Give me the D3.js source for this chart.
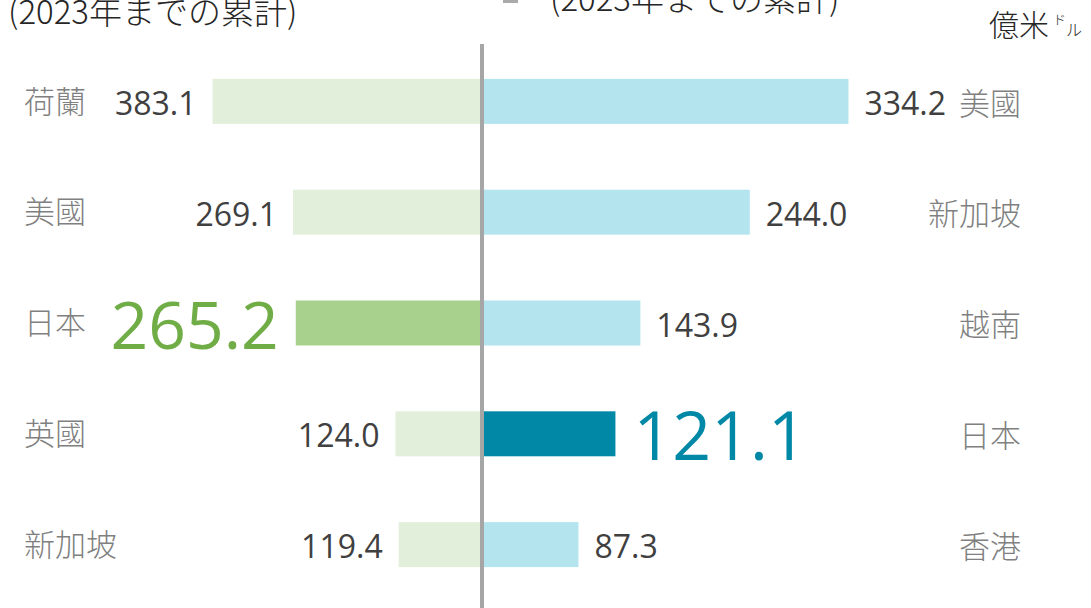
<!DOCTYPE html>
<html>
<head>
<meta charset="utf-8">
<script src="https://cdn.jsdelivr.net/npm/d3@7"></script>
<style>
  body { margin: 0; background: #fff; }
  svg { display: block; }
</style>
</head>
<body>
<div id="container"></div>
<script>
// data
const leftCountries = ["荷蘭", "美國", "日本", "英國", "新加坡"]
const leftValues = [383.1, 269.1, 265.2, 124.0, 119.4]
const rightCountries = ["美國", "新加坡", "越南", "日本", "香港"]
const rightValues = [334.2, 244.0, 143.9, 121.1, 87.3]
const highlight = "日本"
const unitLabel = ["億米", "ド", "ル"]
const subTitle = "(2023年までの累計)"

const width = 1091, height = 608
const center = 483
const numFont = "'Open Sans', 'Noto Sans', sans-serif"
const cjkFont = "'Noto Sans CJK TC', 'Noto Sans CJK JP', sans-serif"
const fmt = d3.format(".1f")

const svg = d3.select("#container")
  .append("svg")
    .attr("width", width)
    .attr("height", height)

// SCALES
const y = d3.scaleBand()
  .domain(d3.range(5))
  .range([46, 600])
  .paddingInner(0.594)
  .paddingOuter(0.297)

const xLeft = d3.scaleLinear().domain([0, 100]).range([center, center - 70.6])
const xRight = d3.scaleLinear().domain([0, 100]).range([center, center + 109.35])

const left = leftCountries.map((c, i) => ({country: c, value: leftValues[i], i: i}))
const right = rightCountries.map((c, i) => ({country: c, value: rightValues[i], i: i}))

// header texts
svg.append("text")
    .attr("x", 8)
    .attr("y", 24)
    .style("font-family", "'Noto Sans CJK JP', sans-serif")
    .style("font-weight", 300)
    .style("font-size", "33px")
    .style("fill", "#262626")
    .text(subTitle)

svg.append("rect")
    .attr("x", 503).attr("y", -12)
    .attr("width", 15).attr("height", 15)
    .attr("fill", "#aaaaaa")

svg.append("text")
    .attr("x", 550)
    .attr("y", 11)
    .style("font-family", "'Noto Sans CJK JP', sans-serif")
    .style("font-weight", 300)
    .style("font-size", "33px")
    .style("fill", "#262626")
    .text(subTitle)

const unit = svg.append("text")
    .attr("x", 989)
    .attr("y", 36)
    .style("font-family", "'Noto Sans CJK JP', sans-serif")
    .style("font-weight", 300)
    .style("font-size", "30px")
    .style("fill", "#262626")
unit.append("tspan").text(unitLabel[0])
unit.append("tspan").attr("dx", 4).attr("dy", -12).style("font-size", "13px").text(unitLabel[1])
unit.append("tspan").attr("dx", 0).attr("dy", 12).style("font-size", "16px").text(unitLabel[2])

// LEFT BARS
svg.selectAll("rect.left")
  .data(left)
  .enter()
  .append("rect")
    .attr("class", "left")
    .attr("x", d => xLeft(d.value))
    .attr("y", d => y(d.i))
    .attr("width", d => center - xLeft(d.value))
    .attr("height", y.bandwidth())
    .attr("fill", d => d.country === highlight ? "#a9d18e" : "#e2efda")

// RIGHT BARS
svg.selectAll("rect.right")
  .data(right)
  .enter()
  .append("rect")
    .attr("class", "right")
    .attr("x", center)
    .attr("y", d => y(d.i))
    .attr("width", d => xRight(d.value) - center)
    .attr("height", y.bandwidth())
    .attr("fill", d => d.country === highlight ? "#0088a6" : "#b4e5ef")

// center line
svg.append("line")
    .attr("x1", 482).attr("x2", 482)
    .attr("y1", 44).attr("y2", height)
    .attr("stroke", "#a6a6a6")
    .attr("stroke-width", 4)

// country names
svg.selectAll("text.lname")
  .data(left)
  .enter()
  .append("text")
    .attr("class", "lname")
    .attr("x", 24)
    .attr("y", d => y(d.i) + y.bandwidth() / 2)
    .attr("dy", "0.36em")
    .style("font-family", cjkFont)
    .style("font-weight", 300)
    .style("font-size", "31px")
    .style("fill", "#808080")
    .text(d => d.country)

svg.selectAll("text.rname")
  .data(right)
  .enter()
  .append("text")
    .attr("class", "rname")
    .attr("x", 1021)
    .attr("text-anchor", "end")
    .attr("y", d => y(d.i) + y.bandwidth() / 2 + 2)
    .attr("dy", "0.36em")
    .style("font-family", cjkFont)
    .style("font-weight", 300)
    .style("font-size", "31px")
    .style("fill", "#808080")
    .text(d => d.country)

// value labels
svg.selectAll("text.lval")
  .data(left)
  .enter()
  .append("text")
    .attr("class", "lval")
    .attr("text-anchor", "end")
    .attr("x", d => xLeft(d.value) - (d.country === highlight ? 17 : 16))
    .attr("y", d => y(d.i) + y.bandwidth() / 2 + 2)
    .attr("dy", "0.36em")
    .style("font-family", numFont)
    .style("font-size", d => d.country === highlight ? "66px" : "32px")
    .style("fill", d => d.country === highlight ? "#70ad47" : "#404040")
    .text(d => fmt(d.value))

svg.selectAll("text.rval")
  .data(right)
  .enter()
  .append("text")
    .attr("class", "rval")
    .attr("x", d => xRight(d.value) + (d.country === highlight ? 18 : 16))
    .attr("y", d => y(d.i) + y.bandwidth() / 2 + 2)
    .attr("dy", "0.36em")
    .style("font-family", numFont)
    .style("font-size", d => d.country === highlight ? "68px" : "32px")
    .style("fill", d => d.country === highlight ? "#0088a6" : "#404040")
    .text(d => fmt(d.value))
</script>
</body>
</html>
